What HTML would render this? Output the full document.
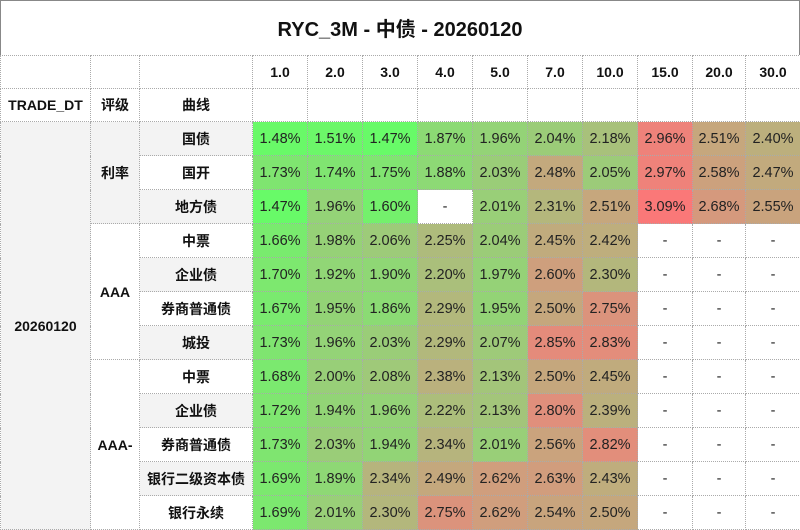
<!DOCTYPE html>
<html><head><meta charset="utf-8">
<style>
body{margin:0;width:800px;height:528px;overflow:hidden;background:#fff;font-family:"Liberation Sans","Noto Sans CJK SC",sans-serif;}
.title{position:absolute;left:0;top:0;width:798px;height:54px;border:1px solid #888;border-bottom:none;text-align:center;line-height:58px;font-size:20px;font-weight:bold;color:#111;}
table{position:absolute;left:0;top:55px;border-collapse:collapse;table-layout:fixed;width:800px;}
td{border:1px dotted #aaa;text-align:center;padding:0;font-size:14.5px;color:#222;height:33px;white-space:nowrap;}
tr.h td{font-weight:bold;font-size:14px;color:#111;height:32px;}
td.l{font-weight:bold;font-size:14px;color:#111;}
.g{background:#f3f3f3;}
</style></head><body>
<div class="title">RYC_3M - 中债 - 20260120</div>
<table>
<colgroup><col style="width:90px"><col style="width:49px"><col style="width:113px">
<col style="width:55px"><col style="width:55px"><col style="width:55px"><col style="width:55px"><col style="width:55px"><col style="width:55px"><col style="width:55px"><col style="width:55px"><col style="width:53px"><col style="width:55px"></colgroup>
<tr class="h"><td></td><td></td><td></td><td>1.0</td><td>2.0</td><td>3.0</td><td>4.0</td><td>5.0</td><td>7.0</td><td>10.0</td><td>15.0</td><td>20.0</td><td>30.0</td></tr>
<tr class="h"><td>TRADE_DT</td><td>评级</td><td>曲线</td><td></td><td></td><td></td><td></td><td></td><td></td><td></td><td></td><td></td><td></td></tr>
<tr><td rowspan="12" class="l g">20260120</td><td rowspan="3" class="l g">利率</td><td class="l g">国债</td><td class="v">1.48%</td><td class="v">1.51%</td><td class="v">1.47%</td><td class="v">1.87%</td><td class="v">1.96%</td><td class="v">2.04%</td><td class="v">2.18%</td><td class="v">2.96%</td><td class="v">2.51%</td><td class="v">2.40%</td></tr>
<tr><td class="l">国开</td><td class="v">1.73%</td><td class="v">1.74%</td><td class="v">1.75%</td><td class="v">1.88%</td><td class="v">2.03%</td><td class="v">2.48%</td><td class="v">2.05%</td><td class="v">2.97%</td><td class="v">2.58%</td><td class="v">2.47%</td></tr>
<tr><td class="l g">地方债</td><td class="v">1.47%</td><td class="v">1.96%</td><td class="v">1.60%</td><td class="v">-</td><td class="v">2.01%</td><td class="v">2.31%</td><td class="v">2.51%</td><td class="v">3.09%</td><td class="v">2.68%</td><td class="v">2.55%</td></tr>
<tr><td rowspan="4" class="l">AAA</td><td class="l">中票</td><td class="v">1.66%</td><td class="v">1.98%</td><td class="v">2.06%</td><td class="v">2.25%</td><td class="v">2.04%</td><td class="v">2.45%</td><td class="v">2.42%</td><td class="v">-</td><td class="v">-</td><td class="v">-</td></tr>
<tr><td class="l g">企业债</td><td class="v">1.70%</td><td class="v">1.92%</td><td class="v">1.90%</td><td class="v">2.20%</td><td class="v">1.97%</td><td class="v">2.60%</td><td class="v">2.30%</td><td class="v">-</td><td class="v">-</td><td class="v">-</td></tr>
<tr><td class="l">券商普通债</td><td class="v">1.67%</td><td class="v">1.95%</td><td class="v">1.86%</td><td class="v">2.29%</td><td class="v">1.95%</td><td class="v">2.50%</td><td class="v">2.75%</td><td class="v">-</td><td class="v">-</td><td class="v">-</td></tr>
<tr><td class="l g">城投</td><td class="v">1.73%</td><td class="v">1.96%</td><td class="v">2.03%</td><td class="v">2.29%</td><td class="v">2.07%</td><td class="v">2.85%</td><td class="v">2.83%</td><td class="v">-</td><td class="v">-</td><td class="v">-</td></tr>
<tr><td rowspan="5" class="l">AAA-</td><td class="l">中票</td><td class="v">1.68%</td><td class="v">2.00%</td><td class="v">2.08%</td><td class="v">2.38%</td><td class="v">2.13%</td><td class="v">2.50%</td><td class="v">2.45%</td><td class="v">-</td><td class="v">-</td><td class="v">-</td></tr>
<tr><td class="l g">企业债</td><td class="v">1.72%</td><td class="v">1.94%</td><td class="v">1.96%</td><td class="v">2.22%</td><td class="v">2.13%</td><td class="v">2.80%</td><td class="v">2.39%</td><td class="v">-</td><td class="v">-</td><td class="v">-</td></tr>
<tr><td class="l">券商普通债</td><td class="v">1.73%</td><td class="v">2.03%</td><td class="v">1.94%</td><td class="v">2.34%</td><td class="v">2.01%</td><td class="v">2.56%</td><td class="v">2.82%</td><td class="v">-</td><td class="v">-</td><td class="v">-</td></tr>
<tr><td class="l g">银行二级资本债</td><td class="v">1.69%</td><td class="v">1.89%</td><td class="v">2.34%</td><td class="v">2.49%</td><td class="v">2.62%</td><td class="v">2.63%</td><td class="v">2.43%</td><td class="v">-</td><td class="v">-</td><td class="v">-</td></tr>
<tr><td class="l">银行永续</td><td class="v">1.69%</td><td class="v">2.01%</td><td class="v">2.30%</td><td class="v">2.75%</td><td class="v">2.62%</td><td class="v">2.54%</td><td class="v">2.50%</td><td class="v">-</td><td class="v">-</td><td class="v">-</td></tr>
</table>
<script>
var lo=1.47,hi=3.09,a=[104,250,104],b=[250,120,120];
document.querySelectorAll('td.v').forEach(function(td){
var v=parseFloat(td.textContent);if(isNaN(v))return;
var t=(v-lo)/(hi-lo);
var c=a.map(function(x,i){return Math.round(x+(b[i]-x)*t+ (i==2?12*Math.sin(Math.PI*t):0));});
td.style.background='rgb('+c.join(',')+')';});
</script>
</body></html>
